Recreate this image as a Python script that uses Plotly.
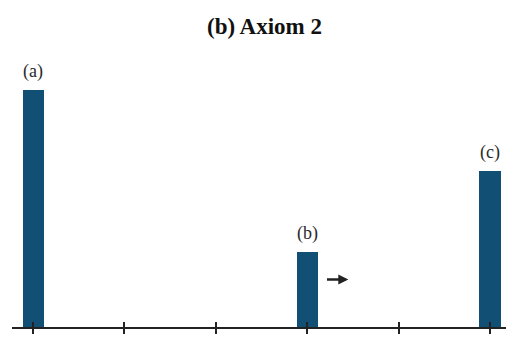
import plotly.graph_objects as go

positions = [0, 3, 5]
values = [3.0, 0.95, 1.97]
labels = ["(a)", "(b)", "(c)"]
tick_positions = [0, 1, 2, 3, 4, 5]
arrow_start = (3.2, 0.6)
arrow_end = (3.45, 0.6)

bar_color = "#124f75"
ink = "#222222"
serif = "Liberation Serif, DejaVu Serif, serif"

fig = go.Figure()
fig.add_trace(go.Bar(x=positions, y=values, width=0.23, marker=dict(color=bar_color, line=dict(width=0)),
                     hoverinfo="skip", showlegend=False))
# invisible trace for second x axis (crossing ticks)
fig.add_trace(go.Scatter(x=[tick_positions[0]], y=[0], xaxis="x2", mode="markers",
                         marker=dict(opacity=0), showlegend=False, hoverinfo="skip"))

for p, v, t in zip(positions, values, labels):
    fig.add_annotation(x=p, y=v, text=t, showarrow=False, yanchor="bottom", yshift=6,
                       font=dict(family=serif, size=18, color="#2a2a2a"))

fig.add_annotation(x=arrow_end[0], y=arrow_end[1], ax=arrow_start[0], ay=arrow_start[1],
                   xref="x", yref="y", axref="x", ayref="y", text="", showarrow=True,
                   arrowhead=2, arrowsize=0.8, arrowwidth=2.5, arrowcolor=ink)

xr = [-0.23, 5.175]
fig.update_layout(
    width=529, height=352,
    margin=dict(l=12, r=23, t=60, b=25),
    plot_bgcolor="white", paper_bgcolor="white",
    title=dict(text="<b>(b) Axiom 2</b>", x=0.5, xanchor="center", y=0.926, yanchor="middle",
               font=dict(family=serif, size=23, color="#111111")),
    xaxis=dict(range=xr, tickvals=tick_positions, showticklabels=False, ticks="outside", ticklen=5,
               tickwidth=1.5, tickcolor=ink, showline=True, linecolor=ink, linewidth=1.5,
               showgrid=False, zeroline=False, fixedrange=True),
    xaxis2=dict(range=xr, overlaying="x", matches="x", tickvals=tick_positions, showticklabels=False,
                ticks="inside", ticklen=5, tickwidth=1.5, tickcolor=ink, showline=False,
                showgrid=False, zeroline=False, side="bottom"),
    yaxis=dict(range=[0, 267 / 79], visible=False, showgrid=False, zeroline=False, fixedrange=True),
    bargap=0,
)

fig.write_html("out.html")
